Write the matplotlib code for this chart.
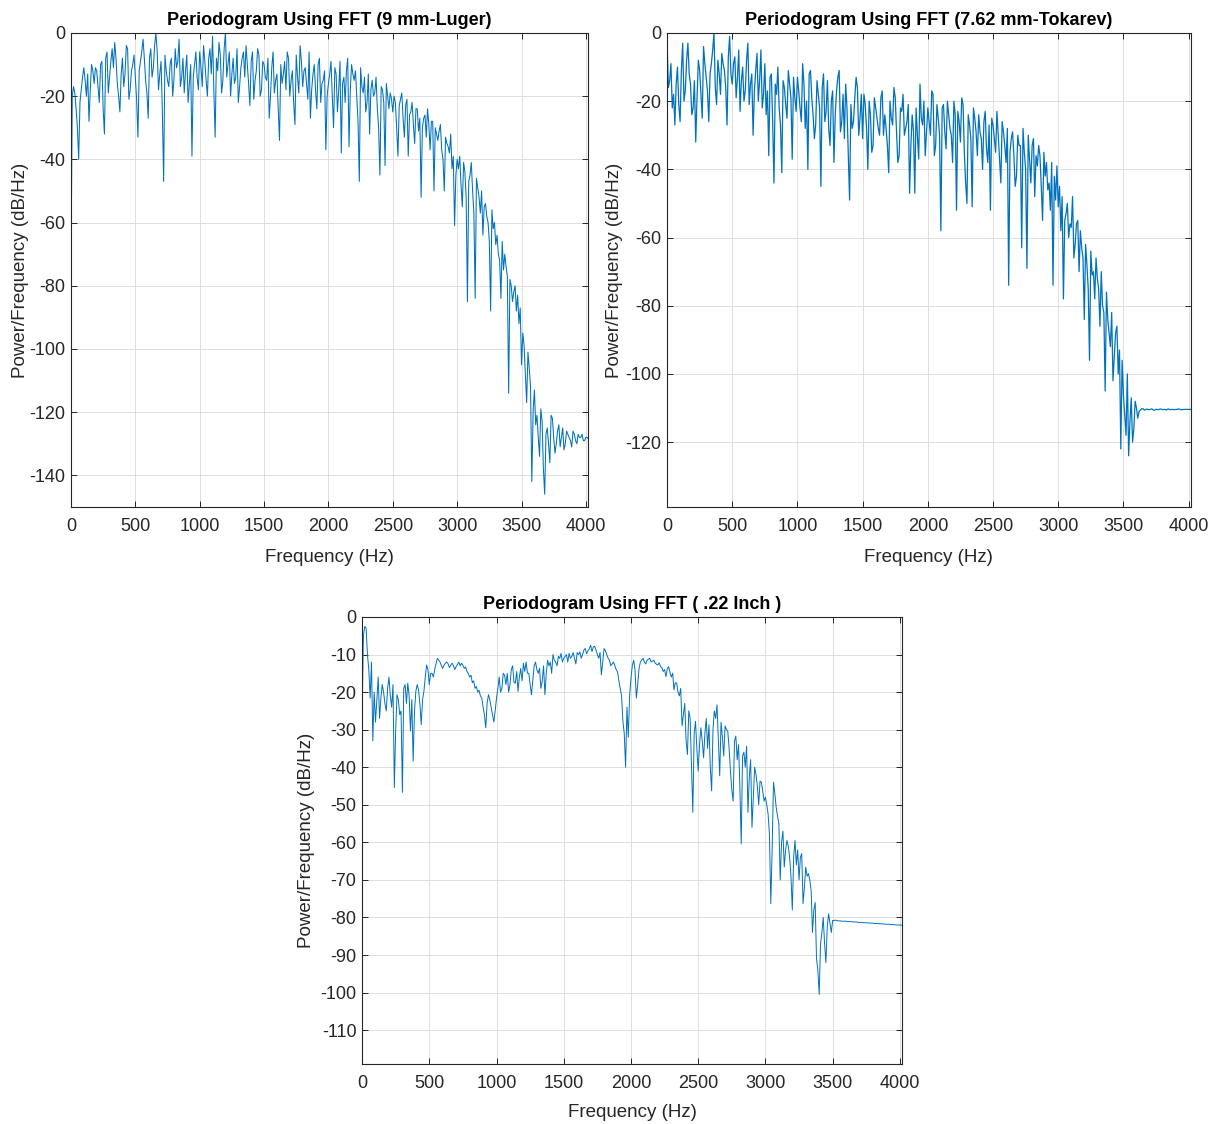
import numpy as np
import matplotlib
matplotlib.use("Agg")
import matplotlib.pyplot as plt

plt.rcParams['font.family'] = ['Liberation Sans', 'DejaVu Sans']
plt.rcParams['axes.unicode_minus'] = False

# periodogram samples, every 10 Hz:
# *_even holds 0, 20, 40 ... 4020 Hz, *_odd holds 10, 30, 50 ... 4010 Hz
FREQ_STEP = 20

luger_even = [
    -75, -17, -24, -40, -18, -11, -20, -28, -10, -16, -12, -22, -9, -32, -6, -14, -5, -3, -16, -25, -8, -13, -5, -18, -10,
    -14, -33, -9, -2, -15, -27, -5, -11, 0, -18, -9, -47, -12, -17, -8, -15, -11, -2, -14, -19, -7, -16, -39, -10, -14,
    -6, -17, -9, -20, -5, -1, -33, -12, -7, -15, 0, -10, -20, -8, -14, -22, -11, -6, -4, -16, -9, -21, -12, -7, -18,
    -10, -15, -27, -11, -19, -13, -34, -16, -9, -6, -20, -12, -29, -14, -4, -17, -11, -21, -27, -13, -18, -10, -22, -15, -37,
    -16, -9, -30, -13, -18, -38, -14, -12, -36, -10, -15, -20, -47, -17, -14, -22, -32, -15, -19, -24, -45, -18, -42, -20, -19,
    -25, -22, -39, -21, -27, -23, -39, -25, -29, -24, -31, -52, -27, -33, -29, -28, -50, -32, -31, -37, -50, -35, -38, -43, -61,
    -40, -39, -55, -44, -85, -45, -50, -84, -49, -57, -64, -54, -60, -88, -62, -67, -70, -84, -75, -74, -114, -80, -82, -88, -92,
    -105, -99, -117, -106, -142, -113, -121, -134, -123, -146, -125, -136, -122, -133, -126, -131, -125, -130, -127, -129, -126, -129, -127, -128, -129,
    -128, -128.5,
]
luger_odd = [
    -20, -19, -30, -22, -14, -15, -13, -18, -12, -11, -17, -10, -24, -8, -19, -9, -11, -8, -20, -13, -17, -4, -21, -12, -7,
    -21, -12, -6, -8, -19, -8, -14, -4, -6, -13, -25, -7, -15, -10, -20, -5, -9, -17, -8, -12, -22, -10, -14, -6, -18,
    -11, -4, -15, -8, -13, -18, -8, -3, -19, -5, -14, -6, -13, -16, -5, -17, -8, -14, -10, -23, -6, -15, -5, -20, -9,
    -14, -8, -20, -6, -15, -24, -10, -13, -18, -8, -15, -22, -7, -19, -9, -12, -16, -6, -18, -10, -24, -8, -16, -12, -20,
    -13, -20, -11, -25, -9, -16, -22, -8, -18, -13, -12, -28, -11, -19, -25, -13, -18, -20, -14, -30, -17, -22, -16, -24, -21,
    -20, -30, -23, -19, -33, -21, -26, -22, -35, -24, -27, -30, -26, -24, -37, -28, -30, -34, -29, -40, -33, -36, -32, -39, -45,
    -43, -48, -41, -52, -47, -41, -57, -46, -52, -50, -55, -58, -66, -56, -60, -64, -72, -66, -70, -77, -78, -85, -80, -83, -87,
    -95, -108, -101, -112, -120, -124, -128, -119, -138, -127, -130, -121, -128, -130, -124, -128, -132, -126, -128, -131, -127, -130, -128, -127, -129,
    -128,
]

tokarev_even = [
    -2, -14, -22, -27, -10, -26, -3, -17, -3, -15, -22, -32, -8, -18, -4, -13, -26, -9, 0, -21, -12, -6, -11, -27, -1,
    -15, -7, -13, -23, -10, -17, -3, -15, -30, -11, -20, -5, -18, -24, -36, -12, -44, -18, -22, -41, -16, -25, -15, -37, -19,
    -13, -22, -9, -28, -40, -11, -24, -27, -18, -45, -12, -23, -28, -20, -38, -17, -11, -26, -31, -22, -49, -28, -19, -16, -25,
    -31, -21, -40, -24, -33, -22, -28, -19, -30, -28, -41, -25, -16, -29, -36, -23, -30, -26, -47, -24, -47, -30, -15, -27, -36,
    -22, -30, -18, -33, -25, -58, -21, -34, -24, -30, -20, -52, -26, -19, -35, -50, -27, -51, -25, -36, -29, -40, -23, -38, -52,
    -27, -35, -30, -44, -29, -38, -74, -31, -36, -42, -33, -63, -35, -69, -37, -33, -48, -39, -36, -55, -42, -46, -52, -74, -49,
    -51, -58, -78, -53, -60, -57, -66, -56, -70, -63, -84, -68, -96, -71, -78, -72, -86, -80, -105, -84, -92, -102, -88, -100, -122,
    -106, -118, -124, -107, -116, -110, -111, -110.2, -110.6, -110.3, -110.5, -110.3, -110.6, -110.4, -110.3, -110.5, -110.4, -110.3, -110.5, -110.4, -110.4, -110.3, -110.5, -110.4, -110.4,
    -110.4, -110.4,
]
tokarev_odd = [
    -16, -9, -18, -15, -21, -11, -20, -8, -12, -24, -14, -19, -11, -25, -9, -17, -12, -5, -16, -8, -18, -9, -16, -7, -12,
    -9, -19, -5, -14, -20, -8, -21, -12, -17, -6, -14, -22, -9, -17, -13, -26, -15, -10, -27, -14, -21, -11, -19, -13, -23,
    -17, -26, -15, -20, -12, -19, -31, -14, -22, -16, -26, -14, -33, -17, -24, -13, -29, -18, -15, -35, -21, -26, -13, -30, -18,
    -18, -28, -20, -35, -19, -25, -30, -17, -24, -33, -20, -27, -19, -38, -22, -18, -28, -21, -33, -29, -22, -37, -25, -20, -29,
    -26, -17, -36, -21, -30, -22, -29, -20, -28, -38, -24, -23, -32, -21, -44, -24, -31, -22, -29, -24, -31, -26, -34, -27, -25,
    -31, -23, -37, -26, -33, -28, -35, -29, -45, -30, -33, -28, -40, -30, -44, -31, -36, -33, -45, -35, -38, -44, -38, -42, -39,
    -45, -48, -55, -50, -56, -48, -62, -55, -58, -66, -62, -75, -64, -70, -66, -75, -70, -82, -76, -88, -82, -95, -86, -93, -96,
    -112, -100, -114, -120, -108, -113, -110.6, -110.2, -110.5, -110.4, -110.3, -110.6, -110.4, -110.5, -110.3, -110.4, -110.6, -110.3, -110.4, -110.5, -110.4, -110.3, -110.5, -110.4, -110.4,
    -110.4,
]

inch22_even = [
    -27, -2.5, -10, -21.6, -33, -28, -16, -21.6, -20, -25, -16, -24, -45.4, -20.7, -26, -46.7, -18, -17.6, -30.4, -38.4, -19.8, -19.4, -28.7, -19.8, -12.8,
    -18, -15, -14, -11, -12, -13.7, -12.3, -12.5, -12.8, -13, -13.2, -12, -12.3, -13.7, -14.5, -16, -17.5, -19, -20, -21, -24, -29.5, -20.7, -24, -28,
    -21.6, -16, -19, -15.5, -15, -18, -13, -17.6, -19.8, -13.7, -12.3, -12, -15, -20.7, -13, -14, -13.7, -17, -20.7, -11.5, -12, -10, -12, -10.5, -9.7,
    -11, -10, -9.7, -10.5, -11, -9.5, -9.3, -10, -8.4, -9, -7.5, -8, -8.8, -11, -15.4, -8.4, -10, -11.5, -12.5, -13, -14.6, -19, -27.8, -40, -32,
    -16.3, -11.5, -21.6, -13.7, -11.5, -12, -11.5, -11, -11.8, -12.3, -12.8, -13.2, -14.5, -15.9, -13.2, -16, -19.4, -17.6, -21, -29, -23, -36.6, -27, -52, -27.8,
    -41, -29.5, -37.5, -27, -28.7, -46.3, -25, -23.4, -42.3, -32, -29, -30.4, -41, -49, -31.7, -34, -60.4, -36, -34.4, -42.8, -56, -40, -45, -43.7, -46.3,
    -48, -52.5, -76.3, -44, -50.7, -55, -60, -66.6, -59.5, -64, -78, -59.5, -62, -64, -76.3, -66.6, -68.3, -72.8, -78, -91, -100.5, -84, -87, -82.5, -81.6,
    -80.8, -80.7, -80.9, -80.9, -81.0, -81.0, -81.1, -81.1, -81.2, -81.2, -81.3, -81.3, -81.4, -81.4, -81.5, -81.5, -81.6, -81.6, -81.7, -81.7, -81.8, -81.8, -81.9, -81.9, -82.0,
    -82.0, -82.1,
]
inch22_odd = [
    -5, -3, -14, -12, -20, -22, -27, -18, -23, -19, -21, -18, -30, -22, -25, -19, -23, -21, -22, -25, -18, -23, -22, -16, -14,
    -15, -16, -12.5, -11.5, -13, -12.8, -12, -13.5, -12.3, -14, -12.6, -13, -12.9, -13.3, -15, -15.5, -17, -18.5, -19.5, -21.5, -26, -23, -22, -26, -25,
    -19, -20, -15, -18, -20, -14, -17.5, -14.5, -16, -17, -14.5, -15, -18, -17, -12, -15, -19, -13, -15, -13, -15, -11.5, -13, -11, -12,
    -10.5, -12, -11, -9.5, -12.5, -10, -11, -8.8, -9.8, -8.5, -9.2, -7.8, -10, -9.5, -12, -9, -11, -13, -12, -14, -17, -21, -31, -24, -21,
    -13, -14, -18, -12, -11, -12.5, -11.2, -12, -11.5, -12.6, -12.2, -13.5, -14, -13.8, -14.8, -15, -17.5, -20, -19, -26, -33, -25, -40, -31, -35,
    -34, -33, -31, -35, -40, -30, -27, -33, -28, -37, -30, -35, -46, -33, -38, -45, -37, -40, -52, -38, -48, -42, -50, -44, -49,
    -50, -58, -62, -47, -53, -70, -57, -62, -61, -69, -64, -66, -70, -63, -72, -69, -70, -84, -76, -94, -87, -80, -92, -79, -84,
    -80.8, -80.8, -80.9, -81.0, -81.0, -81.1, -81.1, -81.2, -81.2, -81.3, -81.3, -81.4, -81.4, -81.5, -81.5, -81.6, -81.6, -81.7, -81.7, -81.8, -81.8, -81.9, -81.9, -82.0, -82.0,
    -82.05,
]

titles = ['Periodogram Using FFT (9 mm-Luger)',
          'Periodogram Using FFT (7.62 mm-Tokarev)',
          'Periodogram Using FFT ( .22 Inch )']
x_ticks = [0, 500, 1000, 1500, 2000, 2500, 3000, 3500, 4000]

LINE_COLOR = '#0072BD'
AX_COLOR = '#262626'


def merge_samples(even, odd):
    # put the 0/20/40.. Hz and 10/30/50.. Hz readings back in frequency order
    f = np.concatenate([np.arange(len(even)) * FREQ_STEP,
                        np.arange(len(odd)) * FREQ_STEP + FREQ_STEP / 2])
    v = np.concatenate([even, odd])
    order = np.argsort(f, kind='stable')
    return f[order], v[order]


def style_axes(ax, title, ylim, yticks):
    ax.set_xlim(0, 4016)
    ax.set_ylim(*ylim)
    ax.set_xticks(x_ticks)
    ax.set_yticks(yticks)
    ax.grid(True, color='#dedede', linewidth=0.7)
    ax.set_axisbelow(True)
    for sp in ax.spines.values():
        sp.set_color(AX_COLOR)
        sp.set_linewidth(0.8)
    ax.tick_params(direction='in', top=True, right=True, length=4, width=0.7,
                   colors=AX_COLOR, labelsize=13)
    ax.tick_params(axis='x', pad=8)
    ax.tick_params(axis='y', pad=4)
    ax.set_title(title, fontsize=13, fontweight='bold', color='black', pad=6)
    ax.set_xlabel('Frequency (Hz)', fontsize=13.5, color=AX_COLOR, va='center')
    ax.set_ylabel('Power/Frequency (dB/Hz)', fontsize=13.5, color=AX_COLOR, va='center')


def plot_psd(ax, even, odd, lw=0.7):
    freq, values = merge_samples(even, odd)
    ax.plot(freq, values, color=LINE_COLOR, linewidth=lw)


fig = plt.figure(figsize=(12.15, 11.24), dpi=100)

ax1 = fig.add_axes([0.0584, 0.549, 0.4255, 0.4217])
plot_psd(ax1, luger_even, luger_odd, lw=0.75)
style_axes(ax1, titles[0], (-150, 0), list(range(0, -141, -20)))
ax1.xaxis.set_label_coords(0.5, -0.106)
ax1.yaxis.set_label_coords(-0.097, 0.5)

ax2 = fig.add_axes([0.549, 0.549, 0.431, 0.4217])
plot_psd(ax2, tokarev_even, tokarev_odd, lw=0.9)
style_axes(ax2, titles[1], (-139, 0), list(range(0, -121, -20)))
ax2.xaxis.set_label_coords(0.5, -0.106)
ax2.yaxis.set_label_coords(-0.101, 0.5)

ax3 = fig.add_axes([0.298, 0.0534, 0.4444, 0.3977])
plot_psd(ax3, inch22_even, inch22_odd, lw=0.7)
style_axes(ax3, titles[2], (-119, 0), list(range(0, -111, -10)))
ax3.xaxis.set_label_coords(0.5, -0.108)
ax3.yaxis.set_label_coords(-0.102, 0.5)

fig.savefig('out.png', dpi=100)
